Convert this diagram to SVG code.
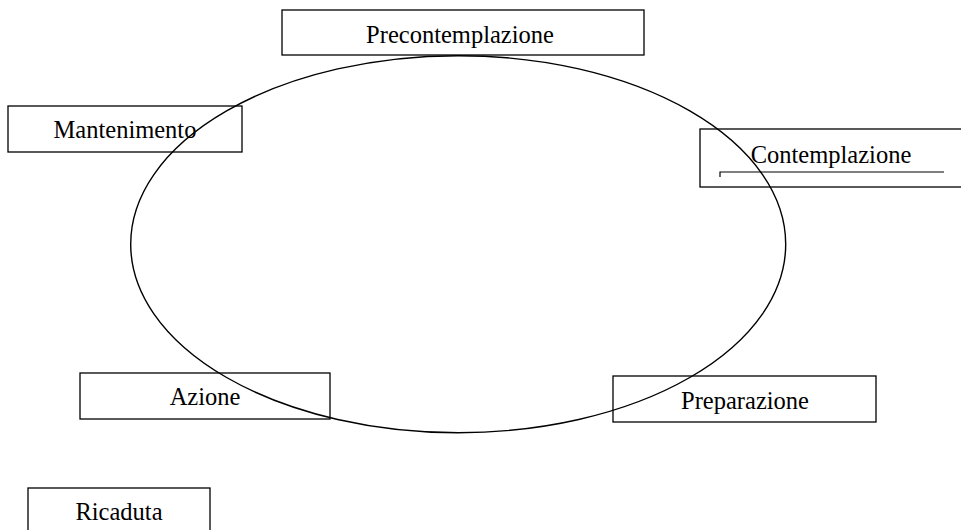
<svg xmlns="http://www.w3.org/2000/svg" width="961" height="530" viewBox="0 0 961 530">
  <style>
    .box { fill: #ffffff; stroke: #000000; stroke-width: 1.3; }
    .label { font-family: "Liberation Serif", "DejaVu Serif", serif; font-size: 24.5px; fill: #000000; text-anchor: middle; }
    .cycle { fill: none; stroke: #000000; stroke-width: 1.4; }
    .rule { fill: none; stroke: #000000; stroke-width: 1.2; }
  </style>
  <rect x="0" y="0" width="961" height="530" fill="#ffffff"/>

  <g id="precontemplazione">
    <rect class="box" x="282" y="10" width="362" height="45"/>
    <text class="label" x="460" y="43">Precontemplazione</text>
  </g>

  <g id="mantenimento">
    <rect class="box" x="8" y="106" width="234" height="46"/>
    <text class="label" x="125" y="138">Mantenimento</text>
  </g>

  <g id="contemplazione">
    <rect class="box" x="700" y="129" width="270" height="58"/>
    <text class="label" x="831" y="163">Contemplazione</text>
    <path class="rule" d="M720,177 V172 H944"/>
  </g>

  <g id="azione">
    <rect class="box" x="80" y="373" width="250" height="46"/>
    <text class="label" x="205" y="405">Azione</text>
  </g>

  <g id="preparazione">
    <rect class="box" x="613" y="376" width="263" height="46"/>
    <text class="label" x="745" y="409">Preparazione</text>
  </g>

  <g id="ricaduta">
    <rect class="box" x="28" y="488" width="182" height="60"/>
    <text class="label" x="119" y="520">Ricaduta</text>
  </g>

  <g id="connectors">
    <ellipse class="cycle" cx="458.2" cy="244.2" rx="327.5" ry="188.5"/>
  </g>
</svg>
